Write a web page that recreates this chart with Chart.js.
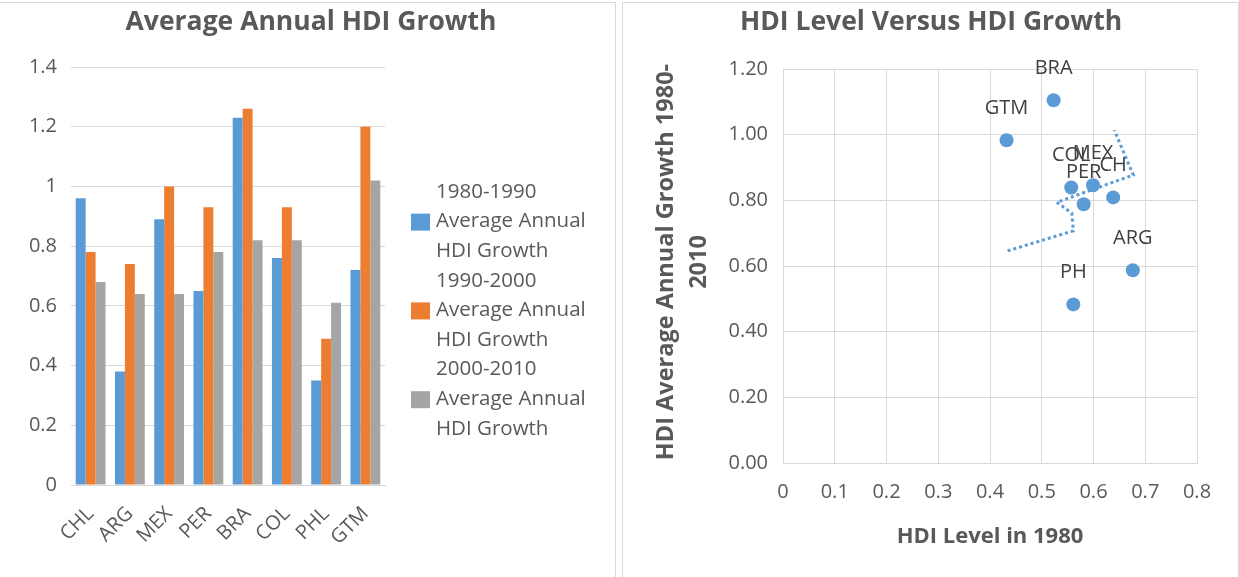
<!DOCTYPE html>
<html><head><meta charset="utf-8">
<script src="https://cdn.jsdelivr.net/npm/chart.js@4/dist/chart.umd.min.js"></script>
<style>
html,body{margin:0;padding:0;background:#fff;width:1239px;height:577px;overflow:hidden;}
#left{position:absolute;left:0;top:0;width:615px;height:577px;}
#right{position:absolute;left:622px;top:0;width:617px;height:577px;}
.frame{position:absolute;border:1px solid #d9d9d9;box-sizing:border-box;pointer-events:none}
</style></head><body>
<div class="frame" style="left:-2px;top:2px;width:618px;height:600px"></div>
<div class="frame" style="left:622px;top:2px;width:617px;height:600px"></div>
<div id="left"><canvas id="c1"></canvas></div>
<div id="right"><canvas id="c2"></canvas></div>
<script>
// ---------- data ----------
const countries = ['CHL','ARG','MEX','PER','BRA','COL','PHL','GTM'];
const growth1980s = [0.96,0.38,0.89,0.65,1.23,0.76,0.35,0.72];
const growth1990s = [0.78,0.74,1.00,0.93,1.26,0.93,0.49,1.20];
const growth2000s = [0.68,0.64,0.64,0.78,0.82,0.82,0.61,1.02];
const seriesNames = [
  ['1980-1990','Average Annual','HDI Growth'],
  ['1990-2000','Average Annual','HDI Growth'],
  ['2000-2010','Average Annual','HDI Growth']
];
const scatterLabels = ['CH','ARG','MEX','PER','BRA','COL','PH','GTM'];
const hdi1980 = [0.638,0.676,0.599,0.581,0.523,0.557,0.561,0.432];
const avgGrowth = [0.809,0.587,0.846,0.788,1.105,0.839,0.483,0.983];
const trendX = [0.434,0.561,0.558,0.529,0.677,0.640];
const trendY = [0.646,0.707,0.761,0.794,0.877,1.014];

const FONT = "'Open Sans', sans-serif";
const TXT = '#595959';
const GRID = '#d9d9d9';
const BLUE = '#5b9bd5', ORANGE = '#ed7d31', GRAY = '#a5a5a5';

// ---------- left: bar chart ----------
const leftDecor = {
  id: 'leftDecor',
  afterDraw(chart) {
    const ctx = chart.ctx;
    ctx.save();
    ctx.fillStyle = TXT;
    ctx.font = `bold 26.5px ${FONT}`;
    ctx.textAlign = 'center';
    ctx.textBaseline = 'middle';
    ctx.fillText('Average Annual HDI Growth', 311, 22);
    // legend
    ctx.font = `20.5px ${FONT}`;
    ctx.textAlign = 'left';
    const lineH = 29.6;
    let y = 192;
    chart.data.datasets.forEach((ds) => {
      const lines = ds.label;
      lines.forEach((ln, i) => {
        ctx.fillStyle = TXT;
        ctx.fillText(ln, 436, y + i * lineH);
        if (i === 1) {
          ctx.fillStyle = ds.backgroundColor;
          ctx.fillRect(411, y + i * lineH - 8, 19, 17);
        }
      });
      y += lines.length * lineH;
    });
    ctx.restore();
  }
};

new Chart(document.getElementById('c1'), {
  type: 'bar',
  data: {
    labels: countries,
    datasets: [
      { label: seriesNames[0], data: growth1980s, backgroundColor: BLUE },
      { label: seriesNames[1], data: growth1990s, backgroundColor: ORANGE },
      { label: seriesNames[2], data: growth2000s, backgroundColor: GRAY }
    ]
  },
  options: {
    responsive: true, maintainAspectRatio: false, animation: false,
    layout: { padding: { left: 0, top: 67, right: 230, bottom: 0 } },
    plugins: { legend: { display: false }, title: { display: false }, tooltip: { enabled: false } },
    datasets: { bar: { categoryPercentage: 0.76, barPercentage: 1.0 } },
    scales: {
      x: {
        grid: { display: false, drawTicks: false },
        border: { display: true, color: GRID, width: 1 },
        ticks: { color: TXT, font: { family: FONT, size: 20 }, minRotation: 45, maxRotation: 45, padding: 17 },
        afterFit(s) { s.height = 92; }
      },
      y: {
        min: 0, max: 1.4,
        grid: { color: GRID, lineWidth: 1, drawTicks: false },
        border: { display: false },
        ticks: { stepSize: 0.2, color: TXT, font: { family: FONT, size: 20 }, padding: 14,
                 callback: v => String(Math.round(v * 10) / 10) },
        afterFit(s) { s.width = 71; }
      }
    }
  },
  plugins: [leftDecor]
});

// ---------- right: scatter ----------
const rightDecor = {
  id: 'rightDecor',
  afterDraw(chart) {
    const ctx = chart.ctx;
    const ca = chart.chartArea;
    ctx.save();
    ctx.fillStyle = TXT;
    ctx.textAlign = 'center';
    ctx.textBaseline = 'middle';
    ctx.font = `bold 26.5px ${FONT}`;
    ctx.fillText('HDI Level Versus HDI Growth', 309, 22);
    ctx.font = `bold 22px ${FONT}`;
    ctx.fillText('HDI Level in 1980', (ca.left + ca.right) / 2, 537);
    ctx.save();
    ctx.translate(58, 262);
    ctx.rotate(-Math.PI / 2);
    ctx.font = `bold 23.5px ${FONT}`;
    ctx.fillText('HDI Average Annual Growth 1980-', 0, -14);
    ctx.fillText('2010', 0, 19);
    ctx.restore();
    // point labels
    ctx.fillStyle = '#404040';
    ctx.font = `20px ${FONT}`;
    const meta = chart.getDatasetMeta(1);
    meta.data.forEach((pt, i) => {
      ctx.fillText(scatterLabels[i], pt.x, pt.y - 32);
    });
    ctx.restore();
  }
};

new Chart(document.getElementById('c2'), {
  type: 'scatter',
  data: {
    datasets: [
      {
        type: 'line', label: 'trend', order: 0,
        data: trendX.map((x, i) => ({ x, y: trendY[i] })),
        borderColor: BLUE, borderWidth: 3, borderDash: [3, 3], pointRadius: 0,
        fill: false, tension: 0
      },
      {
        label: 'HDI', order: 1,
        data: hdi1980.map((x, i) => ({ x, y: avgGrowth[i] })),
        backgroundColor: BLUE, borderColor: BLUE, pointRadius: 7, pointBorderWidth: 0
      }
    ]
  },
  options: {
    responsive: true, maintainAspectRatio: false, animation: false,
    layout: { padding: { left: 0, top: 69, right: 42, bottom: 0 } },
    plugins: { legend: { display: false }, title: { display: false }, tooltip: { enabled: false } },
    scales: {
      x: {
        type: 'linear', min: 0, max: 0.8,
        grid: { color: GRID, lineWidth: 1, drawTicks: false },
        border: { display: true, color: GRID, width: 1 },
        ticks: { stepSize: 0.1, color: TXT, font: { family: FONT, size: 20 }, padding: 17,
                 callback: v => String(Math.round(v * 10) / 10) },
        afterFit(s) { s.height = 114; }
      },
      y: {
        min: 0, max: 1.2,
        grid: { color: GRID, lineWidth: 1, drawTicks: false },
        border: { display: true, color: GRID, width: 1 },
        ticks: { stepSize: 0.2, color: TXT, font: { family: FONT, size: 20 }, padding: 15,
                 callback: v => v.toFixed(2) },
        afterFit(s) { s.width = 161; }
      }
    }
  },
  plugins: [rightDecor]
});
</script>
</body></html>
